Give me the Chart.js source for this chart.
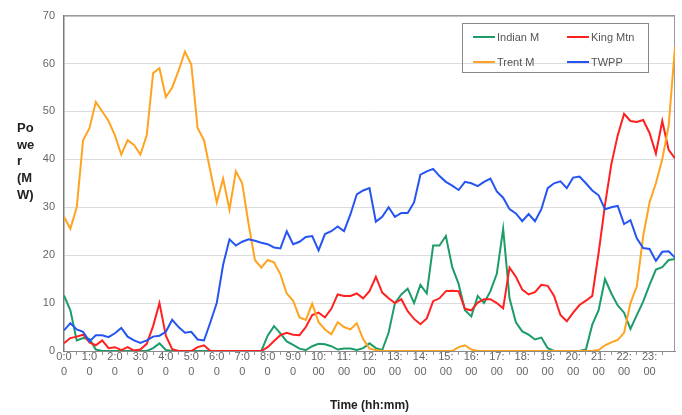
<!DOCTYPE html>
<html>
<head>
<meta charset="utf-8">
<script src="https://cdn.jsdelivr.net/npm/chart.js@4.4.0/dist/chart.umd.min.js"></script>
<style>
  html, body { margin: 0; padding: 0; background: #fff; }
  #wrap { position: relative; width: 682px; height: 415px; }
  #powerChart { position: absolute; left: 0; top: 0; }
  #yTitle {
    position: absolute; left: 17px; top: 120px;
    font: bold 13px "Liberation Sans", Arial, sans-serif;
    line-height: 16.7px; color: #222;
  }
  #legend {
    position: absolute; left: 462px; top: 23px; width: 187px; height: 50px;
    border: 1px solid #888; box-sizing: border-box;
    display: grid; grid-template-columns: 94px 93px; grid-auto-rows: 25px;
    font: 11px "Liberation Sans", Arial, sans-serif; color: #555;
  }
  #legend .item { display: flex; align-items: center; padding-left: 10px; }
  #legend .swatch { display: inline-block; width: 22px; height: 2px; margin-right: 2px; }
</style>
</head>
<body>
<div id="wrap">
  <canvas id="powerChart" width="682" height="415"></canvas>
  <div id="yTitle"></div>
  <div id="legend"></div>
</div>
<script>
// 시간축 라벨 (정각마다)
const tickLabels = ["0:00", "1:00", "2:00", "3:00", "4:00", "5:00", "6:00", "7:00",
  "8:00", "9:00", "10:00", "11:00", "12:00", "13:00", "14:00", "15:00",
  "16:00", "17:00", "18:00", "19:00", "20:00", "21:00", "22:00", "23:00"];
const sampleStepMin = 15; // 15분 간격 측정값

// 발전소별 출력 (MW), 한 줄에 1시간
const indianM = [
  11.6, 8.5, 2.2, 2.7,
  2.5, 0.3, 0, 0,
  0, 0, 0, 0,
  0, 0, 0.6, 1.6,
  0.2, 0, 0, 0,
  0, 0, 0, 0,
  0, 0, 0, 0,
  0, 0, 0, 0,
  3.2, 5.2, 3.7, 2,
  1.3, 0.5, 0.2, 1,
  1.5, 1.4, 1, 0.3,
  0.5, 0.5, 0.2, 0.6,
  1.6, 0.6, 0.2, 3.8,
  10, 11.8, 13, 10,
  13.8, 12, 22, 22,
  24, 17.5, 14, 8.5,
  7.2, 11.5, 10, 12.5,
  16.1, 25.5, 11, 6,
  4.1, 3.4, 2.4, 2.8,
  0.6, 0, 0, 0,
  0, 0, 0.3, 5.5,
  8.5, 15, 12, 9.5,
  8, 4.6, 7.5, 10.3,
  13.8, 17, 17.5, 19,
  19.2
];

const kingMtn = [
  1.6, 2.7, 3, 3.4,
  1.8, 1.2, 2.2, 0.6,
  0.8, 0.2, 0.8, 0.1,
  0.3, 1.5, 5.2, 10,
  3.2, 0.4, 0, 0,
  0, 0.8, 1.2, 0,
  0, 0, 0, 0,
  0, 0, 0, 0,
  0.8, 2.1, 3.3, 3.8,
  3.4, 3.3, 5, 7.5,
  8, 7, 8.8, 11.8,
  11.5, 11.5, 12, 11,
  12.5, 15.5, 12.2, 11,
  10, 10.8, 8.3, 6.7,
  5.6, 6.8, 10.4, 11,
  12.5, 12.6, 12.5, 8.8,
  8.5, 10.1, 10.8, 10.8,
  10, 8.9, 17.4, 15.5,
  12.8, 11.8, 12.3, 13.8,
  13.6, 11.5, 7.5, 6.2,
  8, 9.6, 10.5, 11.5,
  20.5, 30.5, 39, 45,
  49.5, 48, 47.8, 48.2,
  45.5, 41.2, 48, 42,
  40.2
];

const trentM = [
  28, 25.5, 30, 44,
  46.5, 52, 50, 48,
  45, 41, 44, 43,
  41, 45, 58, 59,
  53, 55, 58.5, 62.5,
  59.8, 46.5, 44, 37.5,
  31, 36, 29.5, 37.5,
  35, 26.5, 19, 17.4,
  19, 18.5, 16, 12,
  10.5, 7, 6.5, 9.9,
  6, 4.5, 3.5, 6,
  5, 4.5, 5.8, 2.5,
  0.5, 0.2, 0, 0,
  0, 0, 0, 0,
  0, 0, 0, 0,
  0, 0, 0.8, 1.2,
  0.3, 0, 0, 0,
  0, 0, 0, 0,
  0, 0, 0, 0,
  0, 0, 0, 0,
  0, 0, 0, 0,
  0.2, 1.2, 1.8, 2.3,
  3.8, 10, 13.5, 24,
  31, 35, 40, 47,
  63.5
];

const twpp = [
  4.3, 5.8, 4.5, 4,
  2, 3.3, 3.3, 2.9,
  3.7, 4.8, 3, 2.2,
  1.7, 2.2, 3, 3.2,
  4, 6.5, 5, 3.8,
  4, 2.4, 2.2, 6,
  10, 18, 23.3, 22,
  22.8, 23.3, 23, 22.6,
  22.3, 21.6, 21.4, 25,
  22.3, 22.8, 23.8, 24,
  21, 24.4, 25, 26,
  25, 28.5, 32.7, 33.5,
  34, 27, 28, 30,
  28, 28.8, 28.8, 31,
  36.8, 37.5, 38, 36.5,
  35.3, 34.5, 33.6, 35.3,
  35, 34.4, 35.3, 36,
  33.3, 32, 29.6, 28.7,
  27.1, 28.6, 27.1, 29.6,
  34, 35, 35.4, 34,
  36.2, 36.4, 35, 33.5,
  32.5, 29.6, 30, 30.3,
  26.5, 27.3, 23.5, 21.5,
  21.3, 18.8, 20.7, 20.8,
  19.5
];

const seriesNames = ["Indian M", "King Mtn", "Trent M", "TWPP"];
const seriesValues = [indianM, kingMtn, trentM, twpp];
const seriesColors = ["#1d9c68", "#ff2020", "#ffa320", "#2455f2"];
const yTitleLines = ["Po", "we", "r", "(M", "W)"];

const FONT = "'Liberation Sans', Arial, sans-serif";

// 측정 순번 -> 시(hour) 단위 x 좌표
function toPoints(values) {
  return values.map((v, i) => ({ x: (i * sampleStepMin) / 60, y: v }));
}

// "10:00" -> ["10:", "00"] 처럼 좁은 칸에 맞춰 두 줄로
function wrapLabel(label) {
  return [label.slice(0, 3), label.slice(3)];
}

// 플롯 영역 테두리
const plotFrame = {
  id: "plotFrame",
  beforeDatasetsDraw(chart) {
    const { ctx, chartArea: a } = chart;
    ctx.save();
    ctx.strokeStyle = "#9a9a9a";
    ctx.lineWidth = 1;
    ctx.beginPath();
    ctx.moveTo(a.left, a.top + 0.5);
    ctx.lineTo(a.right - 0.5, a.top + 0.5);
    ctx.lineTo(a.right - 0.5, a.bottom);
    ctx.stroke();
    ctx.restore();
  },
};

const chart = new Chart(document.getElementById("powerChart").getContext("2d"), {
  type: "line",
  data: {
    datasets: seriesNames.map((name, i) => ({
      label: name,
      data: toPoints(seriesValues[i]),
      borderColor: seriesColors[i],
      backgroundColor: seriesColors[i],
      borderWidth: 2,
      pointRadius: 0,
      tension: 0,
      order: seriesNames.length - i,
    })),
  },
  options: {
    responsive: false,
    animation: false,
    layout: { padding: { top: 13, right: 7, left: 0, bottom: 0 } },
    plugins: {
      legend: { display: false },
      tooltip: { enabled: false },
    },
    scales: {
      x: {
        type: "linear",
        min: 0,
        max: 24,
        afterFit: (scale) => { scale.height = 64; },
        border: { color: "#8a8a8a", width: 1 },
        grid: {
          drawOnChartArea: false,
          drawTicks: true,
          tickLength: 4,
          color: (c) => (c.tick && !Number.isInteger(c.tick.value) ? "#9a9a9a" : "rgba(0,0,0,0)"),
        },
        ticks: {
          stepSize: 0.5,
          autoSkip: false,
          maxRotation: 0,
          minRotation: 0,
          padding: -5,
          color: "#666",
          font: { family: FONT, size: 11, lineHeight: 1.35 },
          callback: (v) => (Number.isInteger(v) && v < 24 ? wrapLabel(tickLabels[v]) : ""),
        },
        title: {
          display: true,
          text: "Time (hh:mm)",
          color: "#222",
          font: { family: FONT, size: 12, weight: "bold" },
          padding: { top: 2, bottom: 2 },
        },
      },
      y: {
        min: 0,
        max: 70,
        afterFit: (scale) => { scale.width = 64; },
        border: { color: "#7a7a7a", width: 1.5 },
        grid: {
          drawTicks: false,
          color: (c) => (c.tick && c.tick.value === 70 ? "#9a9a9a" : "#dcdcdc"),
        },
        ticks: {
          stepSize: 10,
          padding: 9,
          color: "#666",
          font: { family: FONT, size: 11 },
        },
      },
    },
  },
  plugins: [plotFrame],
});

// 세로축 제목 (가로로 쓴 줄바꿈 형태)
document.getElementById("yTitle").innerHTML = yTitleLines.map((t) => "<div>" + t + "</div>").join("");

// 범례: 차트 데이터셋에서 생성
const legendBox = document.getElementById("legend");
chart.data.datasets.forEach((ds) => {
  const item = document.createElement("div");
  item.className = "item";
  const swatch = document.createElement("span");
  swatch.className = "swatch";
  swatch.style.background = ds.borderColor;
  item.appendChild(swatch);
  item.appendChild(document.createTextNode(ds.label));
  legendBox.appendChild(item);
});
</script>
</body>
</html>
